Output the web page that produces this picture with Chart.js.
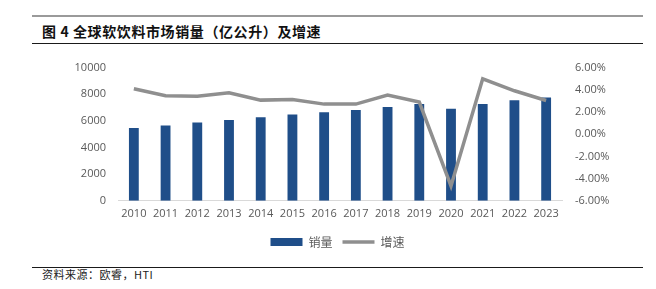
<!DOCTYPE html>
<html>
<head>
<meta charset="utf-8">
<script src="https://cdn.jsdelivr.net/npm/chart.js@4"></script>
<style>
  html, body { margin: 0; padding: 0; background: #fff; }
  #page { position: relative; width: 656px; height: 289px; overflow: hidden; }
  .rule { position: absolute; left: 32px; width: 611px; }
  #title { position: absolute; left: 42px; top: 21px; font: bold 14px "Noto Sans CJK SC", sans-serif; letter-spacing: 0.6px; color: #111; white-space: nowrap; }
  #source { position: absolute; left: 42px; top: 266px; font: 11px "Noto Sans CJK SC", sans-serif; letter-spacing: 0.5px; color: #222; white-space: nowrap; }
  #wrap { position: absolute; left: 32px; top: 48px; width: 611px; height: 210px; }
</style>
</head>
<body>
<div id="page">
  <div class="rule" style="top:15px;height:2px;background:#9a9a9a"></div>
  <div id="title">图&nbsp;4 全球软饮料市场销量（亿公升）及增速</div>
  <div class="rule" style="top:43px;height:1px;background:#1a1a1a"></div>
  <div id="wrap"><canvas id="chart"></canvas></div>
  <div class="rule" style="top:267px;height:1px;background:#1a1a1a"></div>
  <div id="source">资料来源：欧睿，HTI</div>
</div>
<script>
// values
const years = ['2010', '2011', '2012', '2013', '2014', '2015', '2016',
  '2017', '2018', '2019', '2020', '2021', '2022', '2023']
const volume = [5470, 5650, 5870, 6070, 6270, 6470, 6640,
  6810, 7040, 7260, 6920, 7260, 7540, 7760]
const growth = [4.09, 3.46, 3.43, 3.73, 3.07, 3.13, 2.71,
  2.71, 3.52, 2.89, -4.66, 4.99, 3.91, 3.04]
const leftTicks = [0, 2000, 4000, 6000, 8000, 10000]
const rightTicks = [-6, -4, -2, 0, 2, 4, 6]

const tickFont = { family: 'Open Sans', size: 11 }
const textColor = '#595959'

new Chart(document.getElementById('chart'), {
  type: 'bar',
  data: {
    labels: years,
    datasets: [{
      label: '销量',
      data: volume,
      backgroundColor: '#1f4e89',
      yAxisID: 'y',
      order: 1,
      barPercentage: 0.62,
      categoryPercentage: 0.5,
      pointStyle: 'rect'
    }, {
      type: 'line',
      label: '增速',
      data: growth,
      borderColor: '#8f8f8f',
      backgroundColor: '#8f8f8f',
      borderWidth: 3.5,
      pointRadius: 0,
      tension: 0,
      yAxisID: 'y1',
      order: 0,
      pointStyle: 'line'
    }]
  },
  options: {
    responsive: true,
    maintainAspectRatio: false,
    animation: false,
    layout: { padding: { top: 16 } },
    plugins: {
      tooltip: { enabled: false },
      legend: {
        position: 'bottom',
        labels: {
          usePointStyle: true,
          pointStyleWidth: 32,
          boxHeight: 8,
          color: textColor,
          font: { family: 'Noto Sans CJK SC', size: 12 },
          sort: (a, b) => a.datasetIndex - b.datasetIndex
        }
      }
    },
    scales: {
      x: {
        grid: { display: false, drawTicks: false },
        border: { display: true, color: '#d9d9d9' },
        ticks: { color: textColor, font: tickFont, padding: 6, maxRotation: 0 }
      },
      y: {
        position: 'left',
        min: leftTicks[0],
        max: leftTicks[leftTicks.length - 1],
        afterBuildTicks: s => { s.ticks = leftTicks.map(v => ({ value: v })) },
        afterFit: s => { s.width = 86 },
        grid: { display: false, drawTicks: false },
        border: { display: false },
        ticks: { color: textColor, font: tickFont, padding: 12, callback: v => String(v) }
      },
      y1: {
        position: 'right',
        min: rightTicks[0],
        max: rightTicks[rightTicks.length - 1],
        afterBuildTicks: s => { s.ticks = rightTicks.map(v => ({ value: v })) },
        afterFit: s => { s.width = 81 },
        grid: { display: false, drawTicks: false },
        border: { display: false },
        ticks: { color: textColor, font: tickFont, padding: 13, callback: v => v.toFixed(2) + '%' }
      }
    }
  }
})
</script>
</body>
</html>
